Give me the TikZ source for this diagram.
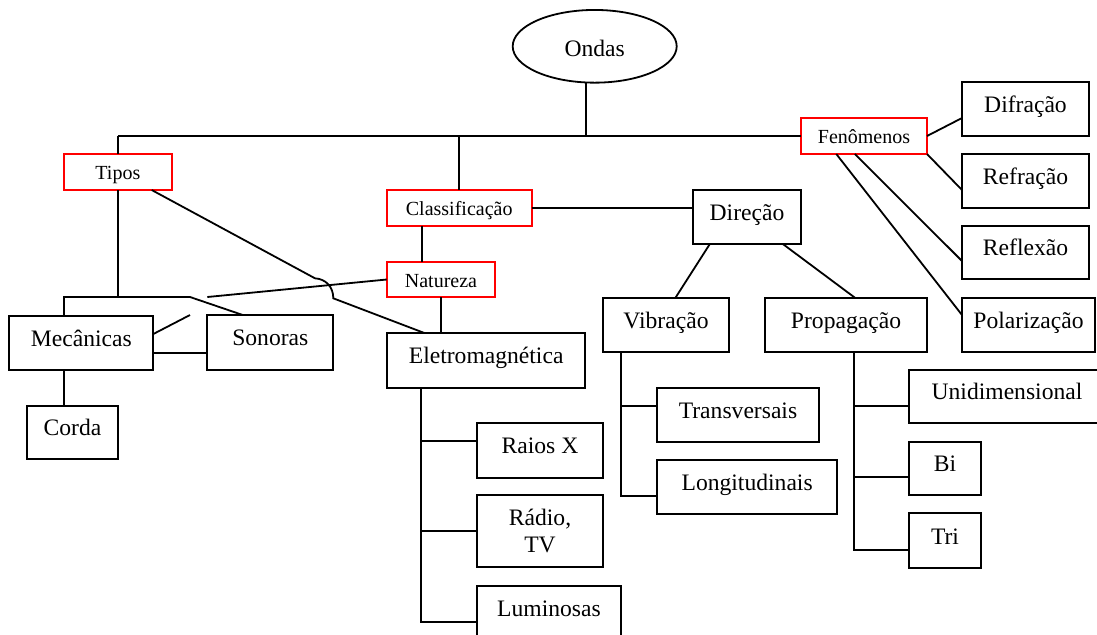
\documentclass[tikz,border=0pt]{standalone}
\usepackage{fontspec}
\setmainfont{Liberation Serif}
\usetikzlibrary{shapes.geometric,calc}

\tikzset{
  line/.style={line width=0.9pt, black},
  box/.style={draw, line width=0.9pt, rectangle, inner sep=0pt, outer sep=0pt,
    font=\fontsize{11.8}{13.5}\selectfont, text height=9pt, text depth=5.7pt},
  tallbox/.style={draw, line width=0.9pt, rectangle, inner sep=0pt, outer sep=0pt,
    font=\fontsize{11.8}{13.5}\selectfont, align=center},
  redbox/.style={draw=red, line width=0.9pt, rectangle, inner sep=0pt, outer sep=0pt,
    font=\fontsize{10}{12}\selectfont, text height=8.5pt, text depth=0.9pt},
  root/.style={draw, line width=0.9pt, ellipse, inner sep=0pt, outer sep=0pt,
    font=\fontsize{11.8}{13.5}\selectfont, text height=10.5pt, text depth=0pt}
}

\begin{document}
\begin{tikzpicture}[x=0.5pt, y=-0.5pt]
\useasboundingbox (0,0) rectangle (1097,634);
\fill[white] (0,0) rectangle (1097,634);
\clip (0,0) rectangle (1097,634);

% root
\node[root, minimum width=82pt, minimum height=36.35pt] (ondas) at (594.7,46.3) {Ondas};

% category labels
\node[redbox, minimum width=54.15pt, minimum height=18pt] (tipos) at (117.85,172) {Tipos};
\node[redbox, minimum width=72.5pt, minimum height=18pt] (class) at (459.2,208) {Classificação};
\node[redbox, minimum width=54.3pt, minimum height=17.8pt] (nat) at (441,279.5) {Natureza};
\node[redbox, minimum width=63pt, minimum height=18pt] (fen) at (864,136) {Fenômenos};

% phenomena
\node[box, minimum width=63.5pt, minimum height=27pt] (difr) at (1025.5,109) {Difração};
\node[box, minimum width=63.5pt, minimum height=27pt] (refr) at (1025.5,181) {Refração};
\node[box, minimum width=63.5pt, minimum height=26.5pt] (refl) at (1025.5,252.5) {Reflexão};
\node[box, minimum width=66.5pt, minimum height=27pt] (pol) at (1028.5,325) {Polarização};

% direction
\node[box, minimum width=54pt, minimum height=27pt] (dir) at (747,217) {Direção};
\node[box, minimum width=63pt, minimum height=27pt] (vib) at (666,325) {Vibração};
\node[box, minimum width=81pt, minimum height=27pt] (prop) at (846,325) {Propagação};
\node[box, minimum width=81pt, minimum height=26.85pt] (trans) at (738,414.85) {Transversais};
\node[box, minimum width=90.15pt, minimum height=27pt] (long) at (747.15,486.7) {Longitudinais};
\node[box, minimum width=98pt, minimum height=26.65pt] (uni) at (1007,396.65) {Unidimensional};
\node[box, minimum width=36pt, minimum height=26.8pt] (bi) at (945,468.5) {Bi};
\node[box, minimum width=36pt, minimum height=27.5pt] (tri) at (945,540.8) {Tri};

% types
\node[box, minimum width=72pt, minimum height=27.15pt] (mec) at (81.3,342.85) {Mecânicas};
\node[box, minimum width=63pt, minimum height=27.5pt] (son) at (270.3,342.5) {Sonoras};
\node[box, minimum width=45.2pt, minimum height=26.8pt] (corda) at (72.5,432.5) {Corda};

% nature
\node[box, minimum width=99.15pt, minimum height=27.5pt] (eletro) at (486.15,360.5) {Eletromagnética};
\node[box, minimum width=63.3pt, minimum height=27.35pt] (raios) at (540,450.65) {Raios X};
\node[tallbox, minimum width=63pt, minimum height=36pt] (radio) at (540,531.3) {Rádio,\\TV};
\node[box, minimum width=72pt, minimum height=27.15pt] (lum) at (549,612.85) {Luminosas};

% main bus
\coordinate (bus) at (585.7,136);
\draw[line] (bus |- ondas.south) -- (bus);
\draw[line] (tipos.north |- fen.west) -- (fen.west);
\draw[line] (tipos.north) -- (tipos.north |- fen.west);
\draw[line] (class.north) -- (class.north |- fen.west);

% phenomena links
\draw[line] (fen.east) -- ($(difr.west)+(0,9)$);
\draw[line] (fen.south east) -- ($(refr.west)+(0,9)$);
\draw[line] (fen.243.4) -- ($(refl.west)+(0,8.5)$);
\draw[line] (fen.213.7) -- ($(pol.west)+(0,-10)$);

% direction links
\draw[line] (class.east) -- (class.east -| dir.west);
\draw[line] (dir.216.9) -- (vib.71.6);
\draw[line] (dir.323.1) -- (prop.71.6);

\coordinate (tb) at ($(trans.west)+(0,-9)$);
\coordinate (lb) at ($(long.west)+(0,9.3)$);
\draw[line] (vib.211) |- (lb);
\draw[line] (tb -| vib.211) -- (tb);

\coordinate (ub) at ($(uni.west)+(0,9)$);
\coordinate (bb) at ($(bi.west)+(0,8.2)$);
\coordinate (trb) at ($(tri.west)+(0,9.2)$);
\draw[line] (prop.287.9) |- (trb);
\draw[line] (ub -| prop.287.9) -- (ub);
\draw[line] (bb -| prop.287.9) -- (bb);

% nature links
\draw[line] (class.206.3) -- (class.206.3 |- nat.north);
\draw[line] (nat.south) -- (nat.south |- eletro.north);

\coordinate (rb) at ($(raios.west)+(0,-9.65)$);
\coordinate (lmb) at ($(lum.west)+(0,8.85)$);
\draw[line] (eletro.203.6) |- (lmb);
\draw[line] (rb -| eletro.203.6) -- (rb);
\draw[line] (radio.west -| eletro.203.6) -- (radio.west);

% type links
\coordinate (mj) at (64,297);
\coordinate (kink) at (190,297);
\draw[line] (mj |- mec.north) -- (mj) -- (kink) -- (son.135.8);
\draw[line] (tipos.south) -- (tipos.south |- mj);
\draw[line] (nat.west) -- (son.north west |- mj);
\draw[line] (mec.7.5) -- (kink |- son.north);
\draw[line] (mec.352.9) -- (mec.352.9 -| son.west);
\draw[line] (mj |- mec.south) -- (mj |- corda.north);

% Tipos to Eletromagnética, hopping over the Natureza line
\coordinate (h1) at (315,278.3);
\coordinate (h2) at (333.3,298.3);
\draw[line] (tipos.332.9) -- (h1) .. controls (326,279) and (333.3,287) .. (h2) -- (eletro.156.6);
\end{tikzpicture}
\end{document}
